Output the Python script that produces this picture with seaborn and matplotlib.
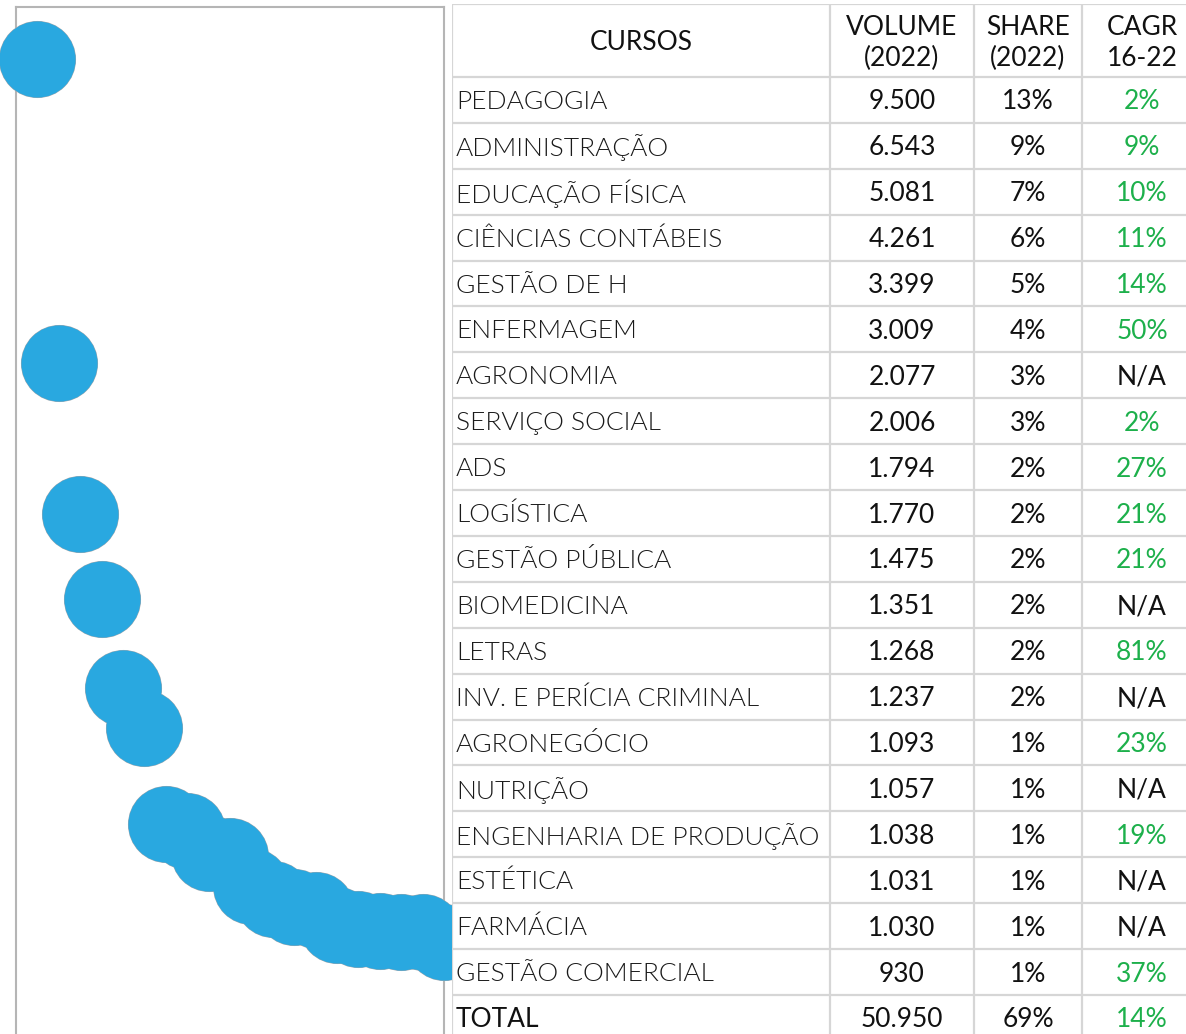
import numpy as np
import pandas as pd
import seaborn as sns
import matplotlib.pyplot as plt
from matplotlib import font_manager

# data
cursos = ['PEDAGOGIA', 'ADMINISTRAÇÃO', 'EDUCAÇÃO FÍSICA', 'CIÊNCIAS CONTÁBEIS', 'GESTÃO DE H',
          'ENFERMAGEM', 'AGRONOMIA', 'SERVIÇO SOCIAL', 'ADS', 'LOGÍSTICA', 'GESTÃO PÚBLICA',
          'BIOMEDICINA', 'LETRAS', 'INV. E PERÍCIA CRIMINAL', 'AGRONEGÓCIO', 'NUTRIÇÃO',
          'ENGENHARIA DE PRODUÇÃO', 'ESTÉTICA', 'FARMÁCIA', 'GESTÃO COMERCIAL']
volume = [9500, 6543, 5081, 4261, 3399, 3009, 2077, 2006, 1794, 1770, 1475,
          1351, 1268, 1237, 1093, 1057, 1038, 1031, 1030, 930]
share = ['13%', '9%', '7%', '6%', '5%', '4%', '3%', '3%', '2%', '2%', '2%',
         '2%', '2%', '2%', '1%', '1%', '1%', '1%', '1%', '1%']
cagr = ['2%', '9%', '10%', '11%', '14%', '50%', 'N/A', '2%', '27%', '21%', '21%',
        'N/A', '81%', 'N/A', '23%', 'N/A', '19%', 'N/A', 'N/A', '37%']
total_label = 'TOTAL'
total_volume = 50950
total_share = '69%'
total_cagr = '14%'
headers = ['CURSOS', 'VOLUME\n(2022)', 'SHARE\n(2022)', 'CAGR\n16-22']

df = pd.DataFrame({'curso': cursos, 'volume': volume, 'rank': np.arange(len(cursos))})

sns.set_theme(style='white')
plt.rcParams['font.family'] = ['Lato', 'DejaVu Sans']

# thin font for the course names (Lato Light if the file is there)
light_files = [f.fname for f in font_manager.fontManager.ttflist
               if f.fname.endswith('Lato-Light.ttf')]
fs = 19
if light_files:
    name_font = font_manager.FontProperties(fname=light_files[0], size=fs)
else:
    name_font = font_manager.FontProperties(family='Lato', weight='normal', size=fs)

W, H = 1186, 1034
fig = plt.figure(figsize=(W / 100, H / 100), dpi=100)

# bubble panel (pixel box: x 16..444, y 7..1038)
ax = fig.add_axes([16 / W, 1 - 1038 / H, 428 / W, 1031 / H])
# outline pass underneath, then faces on top so overlaps merge
sns.scatterplot(data=df, x='rank', y='volume', s=3080, color='#9aa6ae', linewidth=0,
                legend=False, ax=ax, clip_on=False, zorder=3)
sns.scatterplot(data=df, x='rank', y='volume', s=3000, color='#29a8e0', linewidth=0,
                legend=False, ax=ax, clip_on=False, zorder=4)
ax.set_xlim(-1, 19)
ax.set_ylim(0, 10000)
ax.set_xticks([])
ax.set_yticks([])
ax.set_xlabel('')
ax.set_ylabel('')
for sp in ax.spines.values():
    sp.set_color('#b5b5b5')
    sp.set_linewidth(1.5)

# table panel drawn in pixel coordinates
x0, x1 = 452, 1202
y0, y1 = 4, 1043
tab = fig.add_axes([x0 / W, 1 - y1 / H, (x1 - x0) / W, (y1 - y0) / H], zorder=5)
tab.set_xlim(x0, x1)
tab.set_ylim(y1, y0)
tab.axis('off')
tab.add_patch(plt.Rectangle((x0, y0), x1 - x0, y1 - y0, color='white', zorder=0))

col_edges = [452, 830, 974, 1082, 1202]
head_bottom = 77
row_h = 45.9
n_rows = len(cursos) + 1
row_edges = [y0, head_bottom] + [head_bottom + row_h * (i + 1) for i in range(n_rows)]

line_kw = dict(color='#d6d6d6', linewidth=1.6, zorder=1)
for yy in row_edges:
    tab.plot([x0, x1], [yy, yy], **line_kw)
for xx in col_edges:
    tab.plot([xx, xx], [y0, y1], **line_kw)

ink = '#111111'
green = '#1db04b'
centers = [(col_edges[i] + col_edges[i + 1]) / 2 for i in range(4)]
centers[3] = 1142

for i, h in enumerate(headers):
    tab.text(centers[i], 43, h, ha='center', va='center',
             fontsize=fs, color=ink, linespacing=1.3, zorder=3)

vol_txt = [f'{v:,}'.replace(',', '.') for v in volume]
rows = list(zip(cursos, vol_txt, share, cagr))
rows.append((total_label, f'{total_volume:,}'.replace(',', '.'), total_share, total_cagr))

for r, (name, vol, sh, cg) in enumerate(rows):
    yc = head_bottom + row_h * (r + 0.5) + 2
    is_total = r == len(rows) - 1
    if is_total:
        tab.text(456, yc, name, ha='left', va='center', fontsize=fs, color=ink, zorder=3)
    else:
        tab.text(456, yc, name, ha='left', va='center', fontproperties=name_font,
                 color='#1a1a1a', zorder=3)
    tab.text(centers[1], yc, vol, ha='center', va='center', fontsize=fs, color=ink, zorder=3)
    tab.text(centers[2], yc, sh, ha='center', va='center', fontsize=fs, color=ink, zorder=3)
    tab.text(centers[3], yc, cg, ha='center', va='center', fontsize=fs,
             color=ink if cg == 'N/A' else green, zorder=3)

fig.savefig('out.png', dpi=100, facecolor='white')
